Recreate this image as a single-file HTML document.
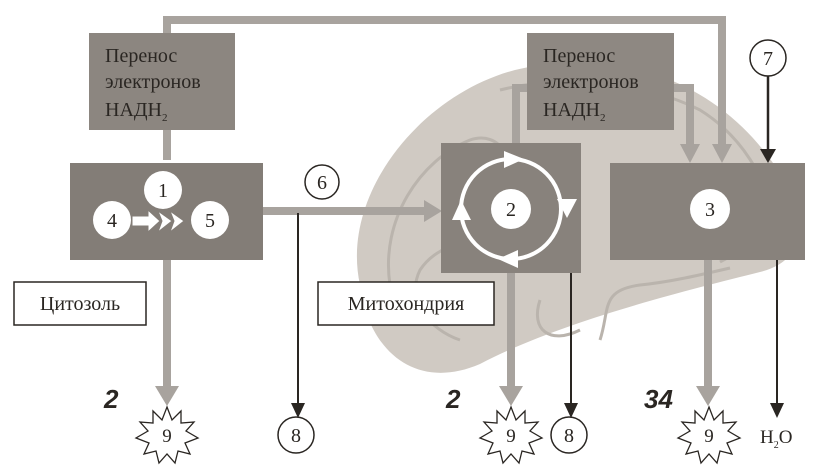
<!DOCTYPE html>
<html><head><meta charset="utf-8"><style>
html,body{margin:0;padding:0;background:#fff}
svg{display:block}
text{font-family:"Liberation Serif",serif;fill:#2a2622}
</style></head><body>
<svg width="818" height="476" viewBox="0 0 818 476" xmlns="http://www.w3.org/2000/svg">
<!-- mitochondrion -->
<path d="M360,285 C340,195 420,95 515,70 C620,45 735,80 795,200 C808,242 792,264 760,272 C680,292 560,322 480,364 C415,392 368,350 360,285 Z" fill="#d0cac3"/>
<g fill="none" stroke="#bab4ad" stroke-width="3">
<path d="M390,285 C380,220 420,160 470,140 C500,130 520,160 500,200 C470,250 440,240 420,270 C405,300 430,330 460,340"/>
<path d="M500,90 C560,75 640,80 700,110 C740,135 770,180 770,220 C760,250 740,250 720,262"/>
<path d="M600,340 C610,310 600,290 640,285 C670,282 700,275 730,268"/>
<path d="M540,300 C530,330 550,345 580,330"/>
</g>
<!-- top connector -->
<path d="M167,160 L167,20 L722,20 L722,148" fill="none" stroke="#a8a39e" stroke-width="8"/>
<path d="M712,144 L732,144 L722,163 Z" fill="#a8a39e"/>
<!-- left NADH box -->
<rect x="89" y="33" width="146" height="97" fill="#8c8680"/>
<text x="105" y="62" font-size="20">Перенос</text>
<text x="105" y="88" font-size="20">электронов</text>
<text x="105" y="116" font-size="20">НАДН<tspan font-size="11" dy="5">2</tspan></text>
<!-- glycolysis box -->
<rect x="70" y="163" width="193" height="97" fill="#837d77"/>
<circle cx="163" cy="190" r="19" fill="#fff"/><text x="163" y="197" font-size="20" text-anchor="middle">1</text>
<circle cx="112" cy="220" r="19" fill="#fff"/><text x="112" y="227" font-size="20" text-anchor="middle">4</text>
<circle cx="210" cy="220" r="19" fill="#fff"/><text x="210" y="227" font-size="20" text-anchor="middle">5</text>
<g fill="#fff" stroke="#837d77" stroke-width="1">
<path d="M132,216 L148,216 L148,210 L160,221 L148,232 L148,226 L132,226 Z"/>
<path d="M158,211 L172,221 L158,232 L162,221 Z"/>
<path d="M170,211 L184,221 L170,232 L174,221 Z"/>
</g>
<!-- to mito arrow -->
<line x1="263" y1="211" x2="430" y2="211" stroke="#a8a39e" stroke-width="8"/>
<path d="M424,200 L442,211 L424,222 Z" fill="#a8a39e"/>
<circle cx="322" cy="182" r="17" fill="#fff" stroke="#2a2622" stroke-width="1.5"/><text x="322" y="189" font-size="20" text-anchor="middle">6</text>
<line x1="298" y1="213" x2="298" y2="405" stroke="#2a2622" stroke-width="2"/>
<path d="M291,403 L305,403 L298,418 Z" fill="#2a2622"/>
<circle cx="296" cy="435" r="18" fill="#fff" stroke="#2a2622" stroke-width="1.5"/><text x="296" y="442" font-size="20" text-anchor="middle">8</text>
<!-- glycolysis down -->
<line x1="167" y1="260" x2="167" y2="390" stroke="#a8a39e" stroke-width="8"/>
<path d="M155,386 L179,386 L167,406 Z" fill="#a8a39e"/>
<!-- labels -->
<rect x="14" y="282" width="132" height="43" fill="#fff" stroke="#2a2622" stroke-width="1.5"/>
<text x="80" y="310" font-size="20" text-anchor="middle">Цитозоль</text>
<rect x="318" y="282" width="176" height="43" fill="#fff" stroke="#2a2622" stroke-width="1.5"/>
<text x="406" y="310" font-size="20" text-anchor="middle">Митохондрия</text>
<!-- mito NADH connectors -->
<path d="M516,145 L516,88 L530,88" fill="none" stroke="#a8a39e" stroke-width="8"/>
<path d="M670,88 L690,88 L690,148" fill="none" stroke="#a8a39e" stroke-width="8"/>
<path d="M680,144 L700,144 L690,163 Z" fill="#a8a39e"/>
<rect x="527" y="33" width="147" height="97" fill="#8e8882"/>
<text x="543" y="62" font-size="20">Перенос</text>
<text x="543" y="88" font-size="20">электронов</text>
<text x="543" y="116" font-size="20">НАДН<tspan font-size="11" dy="5">2</tspan></text>
<!-- Krebs box -->
<rect x="441" y="143" width="140" height="130" fill="#88827c"/>
<circle cx="511" cy="209" r="50" fill="none" stroke="#fff" stroke-width="4"/>
<g fill="#fff">
<path d="M504,151 L524,159 L504,168 Z"/>
<path d="M557,199 L567,218 L577,199 Z"/>
<path d="M518,250 L498,259 L518,268 Z"/>
<path d="M452,220 L461,200 L471,220 Z"/>
</g>
<circle cx="511" cy="209" r="20" fill="#fff"/><text x="511" y="216" font-size="20" text-anchor="middle">2</text>
<!-- ETC box -->
<rect x="610" y="163" width="195" height="97" fill="#88827c"/>
<circle cx="710" cy="209" r="20" fill="#fff"/><text x="710" y="216" font-size="20" text-anchor="middle">3</text>
<!-- 7 -->
<circle cx="768" cy="58" r="18" fill="#fff" stroke="#2a2622" stroke-width="1.5"/><text x="768" y="65" font-size="20" text-anchor="middle">7</text>
<line x1="768" y1="76" x2="768" y2="150" stroke="#2a2622" stroke-width="2.5"/>
<path d="M760,149 L776,149 L768,163 Z" fill="#2a2622"/>
<!-- Krebs outputs -->
<line x1="511" y1="273" x2="511" y2="390" stroke="#a8a39e" stroke-width="8"/>
<path d="M499,386 L523,386 L511,406 Z" fill="#a8a39e"/>
<line x1="571" y1="273" x2="571" y2="405" stroke="#2a2622" stroke-width="2"/>
<path d="M564,403 L578,403 L571,418 Z" fill="#2a2622"/>
<circle cx="569" cy="435" r="18" fill="#fff" stroke="#2a2622" stroke-width="1.5"/><text x="569" y="442" font-size="20" text-anchor="middle">8</text>
<!-- ETC outputs -->
<line x1="708" y1="260" x2="708" y2="390" stroke="#a8a39e" stroke-width="8"/>
<path d="M696,386 L720,386 L708,406 Z" fill="#a8a39e"/>
<line x1="777" y1="260" x2="777" y2="405" stroke="#2a2622" stroke-width="2"/>
<path d="M770,403 L784,403 L777,418 Z" fill="#2a2622"/>
<text x="760" y="443" font-size="19">H<tspan font-size="10" dy="5">2</tspan><tspan dy="-5">O</tspan></text>
<!-- stars -->
<g fill="#fff" stroke="#2a2622" stroke-width="1.3">
<path d="M0,-28 L5,-15 L14,-24 L14,-12 L27,-13 L19,-4 L31,3 L18,8 L23,19 L11,16 L8,28 L0,19 L-8,28 L-11,16 L-23,19 L-18,8 L-31,3 L-19,-4 L-27,-13 L-14,-12 L-14,-24 L-5,-15 Z" transform="translate(167,435)"/>
<path d="M0,-28 L5,-15 L14,-24 L14,-12 L27,-13 L19,-4 L31,3 L18,8 L23,19 L11,16 L8,28 L0,19 L-8,28 L-11,16 L-23,19 L-18,8 L-31,3 L-19,-4 L-27,-13 L-14,-12 L-14,-24 L-5,-15 Z" transform="translate(511,435)"/>
<path d="M0,-28 L5,-15 L14,-24 L14,-12 L27,-13 L19,-4 L31,3 L18,8 L23,19 L11,16 L8,28 L0,19 L-8,28 L-11,16 L-23,19 L-18,8 L-31,3 L-19,-4 L-27,-13 L-14,-12 L-14,-24 L-5,-15 Z" transform="translate(709,435)"/>
</g>
<text x="167" y="442" font-size="19" text-anchor="middle">9</text>
<text x="511" y="442" font-size="19" text-anchor="middle">9</text>
<text x="709" y="442" font-size="19" text-anchor="middle">9</text>
<g font-weight="bold" font-style="italic" font-size="26">
<text x="104" y="408" style="font-family:'Liberation Sans',sans-serif">2</text>
<text x="446" y="408" style="font-family:'Liberation Sans',sans-serif">2</text>
<text x="644" y="408" style="font-family:'Liberation Sans',sans-serif">34</text>
</g>
</svg>
</body></html>
